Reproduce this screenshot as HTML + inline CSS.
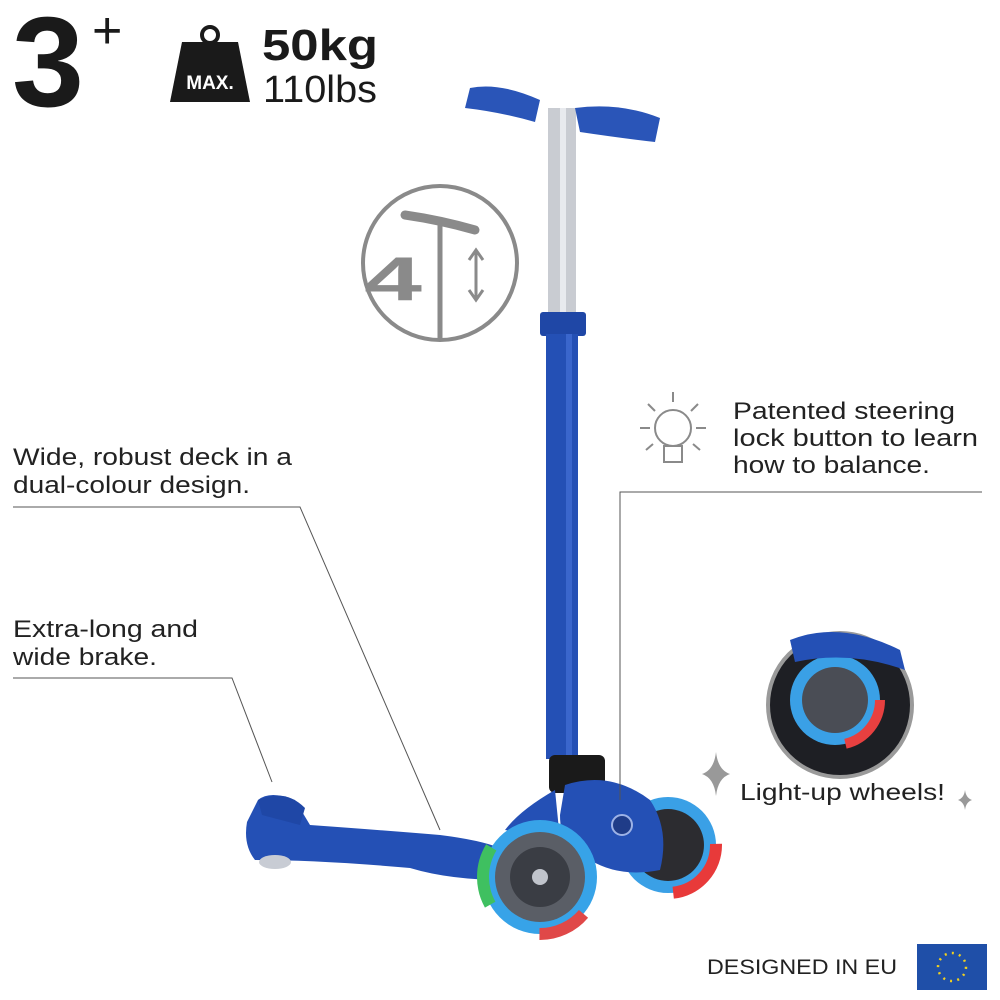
<!DOCTYPE html>
<html><head><meta charset="utf-8"><style>
html,body{margin:0;padding:0;background:#fff}
svg{display:block}
text{font-family:"Liberation Sans",sans-serif}
</style></head><body>
<svg width="1000" height="1000" viewBox="0 0 1000 1000" xmlns="http://www.w3.org/2000/svg">
<rect width="1000" height="1000" fill="#fff"/>
<!-- top left -->
<text x="12" y="106" font-size="128" font-weight="bold" fill="#1a1a1a" textLength="72" lengthAdjust="spacingAndGlyphs">3</text>
<text x="92" y="48" font-size="52" fill="#1a1a1a">+</text>
<circle cx="210" cy="35" r="8" fill="none" stroke="#1a1a1a" stroke-width="4"/>
<polygon points="182,42 238,42 250,102 170,102" fill="#1a1a1a"/>
<text x="210" y="89" font-size="19" font-weight="bold" fill="#fff" text-anchor="middle">MAX.</text>
<text x="262" y="60" font-size="44" font-weight="bold" fill="#1a1a1a" textLength="116" lengthAdjust="spacingAndGlyphs">50kg</text>
<text x="263" y="102" font-size="38" fill="#1a1a1a" textLength="114" lengthAdjust="spacingAndGlyphs">110lbs</text>

<!-- height icon -->
<circle cx="440" cy="263" r="77" fill="none" stroke="#8a8a8a" stroke-width="4"/>
<text x="364" y="300" font-size="62" font-weight="bold" fill="#8a8a8a" textLength="58" lengthAdjust="spacingAndGlyphs">4</text>
<path d="M405,215 Q440,220 475,230" stroke="#8a8a8a" stroke-width="9" fill="none" stroke-linecap="round"/>
<line x1="440" y1="222" x2="440" y2="340" stroke="#8a8a8a" stroke-width="5"/>
<line x1="476" y1="252" x2="476" y2="298" stroke="#8a8a8a" stroke-width="3"/>
<polyline points="469,260 476,250 483,260" fill="none" stroke="#8a8a8a" stroke-width="3"/>
<polyline points="469,290 476,300 483,290" fill="none" stroke="#8a8a8a" stroke-width="3"/>

<!-- scooter stem -->
<rect x="548" y="108" width="28" height="210" fill="#c9ccd2"/>
<rect x="560" y="108" width="6" height="210" fill="#e8eaee"/>
<path d="M470,88 Q500,82 540,100 L535,122 Q500,112 465,108 Z" fill="#2a55b8"/>
<path d="M575,108 Q620,102 660,118 L655,142 Q620,138 580,132 Z" fill="#2a55b8"/>
<rect x="540" y="312" width="46" height="24" rx="3" fill="#1f47a6"/>
<rect x="546" y="334" width="32" height="425" fill="#2450b5"/>
<rect x="566" y="334" width="6" height="425" fill="#3a66cc"/>
<rect x="549" y="755" width="56" height="38" rx="6" fill="#1a1a1a"/>
<!-- deck -->
<path d="M258,800 Q270,790 295,800 L310,825 Q380,830 440,835 Q480,840 500,848 L505,880 Q450,880 410,868 Q320,860 255,860 Q243,845 247,822 Z" fill="#2450b5"/>
<path d="M258,800 Q285,788 305,808 L300,825 L262,815 Z" fill="#1f47a6"/>
<ellipse cx="275" cy="862" rx="16" ry="7" fill="#c8ccd4"/>
<!-- rear (right) wheel -->
<circle cx="668" cy="845" r="48" fill="#3aa0e6"/>
<circle cx="668" cy="845" r="48" fill="none" stroke="#e83a3a" stroke-width="12" stroke-dasharray="70 230"/>
<circle cx="668" cy="845" r="36" fill="#2c2c30"/>
<!-- fork -->
<path d="M565,785 Q610,770 650,800 Q670,830 660,870 Q620,878 590,860 Q560,850 560,815 Z" fill="#2450b5"/>
<path d="M555,790 Q520,810 505,830 L560,840 Z" fill="#2450b5"/>
<circle cx="622" cy="825" r="10" fill="#1f3c88" stroke="#9db2e6" stroke-width="2"/>
<!-- front wheel -->
<circle cx="540" cy="877" r="57" fill="#37a3e8"/>
<circle cx="540" cy="877" r="57" fill="none" stroke="#3fc060" stroke-width="12" stroke-dasharray="60 300" stroke-dashoffset="-150"/>
<circle cx="540" cy="877" r="57" fill="none" stroke="#e04848" stroke-width="12" stroke-dasharray="50 310" stroke-dashoffset="-40"/>
<circle cx="540" cy="877" r="45" fill="#5a5e66"/>
<circle cx="540" cy="877" r="30" fill="#3a3d44"/>
<circle cx="540" cy="877" r="8" fill="#c0c4cc"/>

<!-- leader lines -->
<polyline points="13,507 300,507 440,830" fill="none" stroke="#555" stroke-width="1"/>
<polyline points="13,678 232,678 272,782" fill="none" stroke="#555" stroke-width="1"/>
<polyline points="982,492 620,492 620,800" fill="none" stroke="#555" stroke-width="1"/>

<g font-size="24" fill="#222">
<text x="13" y="465" textLength="279" lengthAdjust="spacingAndGlyphs">Wide, robust deck in a</text>
<text x="13" y="493" textLength="237" lengthAdjust="spacingAndGlyphs">dual-colour design.</text>
<text x="13" y="637" textLength="185" lengthAdjust="spacingAndGlyphs">Extra-long and</text>
<text x="13" y="665" textLength="144" lengthAdjust="spacingAndGlyphs">wide brake.</text>
<text x="733" y="419" textLength="222" lengthAdjust="spacingAndGlyphs">Patented steering</text>
<text x="733" y="446" textLength="245" lengthAdjust="spacingAndGlyphs">lock button to learn</text>
<text x="733" y="473" textLength="197" lengthAdjust="spacingAndGlyphs">how to balance.</text>
<text x="740" y="800" font-size="23" textLength="205" lengthAdjust="spacingAndGlyphs">Light-up wheels!</text>
<text x="707" y="974" font-size="21" textLength="190" lengthAdjust="spacingAndGlyphs">DESIGNED IN EU</text>
</g>

<!-- bulb -->
<g stroke="#8a8a8a" stroke-width="2" fill="none">
<circle cx="673" cy="428" r="18"/>
<rect x="664" y="446" width="18" height="16"/>
<line x1="673" y1="392" x2="673" y2="402"/><line x1="640" y1="428" x2="650" y2="428"/><line x1="696" y1="428" x2="706" y2="428"/>
<line x1="648" y1="404" x2="655" y2="411"/><line x1="698" y1="404" x2="691" y2="411"/>
<line x1="646" y1="450" x2="653" y2="444"/><line x1="700" y1="450" x2="693" y2="444"/>
</g>

<!-- zoom circle -->
<circle cx="840" cy="705" r="72" fill="#1e1f24" stroke="#9a9a9a" stroke-width="4"/>
<circle cx="835" cy="700" r="45" fill="#3aa0e6"/>
<circle cx="835" cy="700" r="45" fill="none" stroke="#e84040" stroke-width="10" stroke-dasharray="60 230"/>
<circle cx="835" cy="700" r="33" fill="#4a4d55"/>
<path d="M790,640 Q840,620 900,650 L905,670 Q850,650 795,662 Z" fill="#2450b5"/>

<path d="M716,752 Q718,770 730,774 Q718,778 716,796 Q714,778 702,774 Q714,770 716,752Z" fill="#999"/>
<path d="M965,790 Q966,798 972,800 Q966,802 965,810 Q964,802 958,800 Q964,798 965,790Z" fill="#999"/>

<rect x="917" y="944" width="70" height="46" fill="#1f4fa8"/>
<circle cx="952" cy="967" r="14" fill="none" stroke="#f0d020" stroke-width="2.5" stroke-dasharray="2 5.3"/>
</svg>
</body></html>
